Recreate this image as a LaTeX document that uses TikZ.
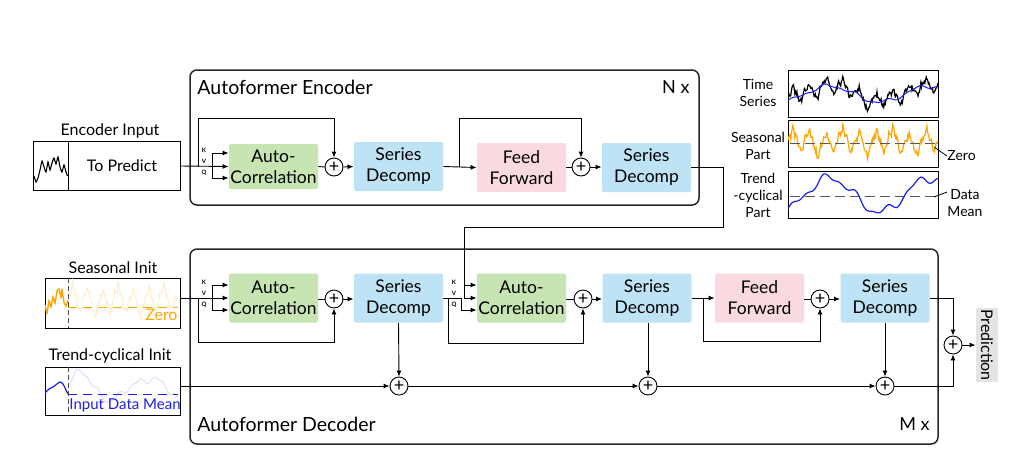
\documentclass[tikz,border=0pt]{standalone}
\usepackage{fontspec}
\setmainfont{Lato}
\usetikzlibrary{arrows.meta,calc}
\definecolor{acg}{RGB}{198,229,179}
\definecolor{sdb}{RGB}{190,227,245}
\definecolor{ffp}{RGB}{249,218,224}
\definecolor{predg}{RGB}{228,228,228}
\definecolor{sorange}{RGB}{255,165,0}
\definecolor{sorangel}{RGB}{255,236,205}
\definecolor{tblue}{RGB}{30,30,235}
\definecolor{tbluel}{RGB}{222,222,255}
\begin{document}
\begin{tikzpicture}[x=1pt,y=-1pt,line width=0.9pt,
  box/.style={rounded corners=2pt,minimum width=89pt,minimum height=49pt,align=center,inner sep=0pt,font=\fontsize{17.5}{21}\selectfont},
  acbox/.style={box,fill=acg},
  sdbox/.style={box,fill=sdb},
  ffbox/.style={box,fill=ffp},
  pl/.style={circle,draw,fill=white,minimum size=18pt,inner sep=0pt,font=\fontsize{18}{18}\selectfont},
  arr/.style={-{Latex[length=6pt,width=5pt]}},
  cont/.style={draw=black!85,line width=1.5pt,rounded corners=7pt,fill=white,inner sep=0pt},
  lab/.style={font=\fontsize{16}{16}\selectfont,inner sep=0pt},
  small/.style={font=\fontsize{14}{17}\selectfont,inner sep=0pt,align=center},
  kvq/.style={font=\fontsize{6}{6}\selectfont\bfseries,inner sep=0pt},
  thumb/.style={draw,inner sep=0pt,line width=1pt},
  declare function={gtr(\u)=sin(540*\u-60)+0.2*sin(1800*\u)+0.12*sin(3300*\u+30);
    sea(\u)=0.5*sin(3240*\u)+0.22*sin(6480*\u+70)+0.22*sin(1170*\u+20)+0.12*sin(14000*\u)+0.7*(max(0,sin(3240*\u-20)))^6;}
]
\pgfmathsetseed{11}
\useasboundingbox (0,0) rectangle (1027,459);

% ---------------- Encoder ----------------
\node[cont,minimum width=509pt,minimum height=135pt] (enc) at (444.5,137.5) {};
\node[anchor=west,font=\fontsize{19.5}{19.5}\selectfont,inner sep=0pt] (enct) at (197,87) {Autoformer Encoder};
\node[anchor=east,font=\fontsize{18}{18}\selectfont,inner sep=0pt] (encn) at (690,87) {N x};

\node[acbox,minimum height=45pt] (eac) at (273.5,166.5) {Auto-\\Correlation};
\node[pl] (ep1) at (334,167) {+};
\node[sdbox] (esd1) at (398.5,166.5) {Series\\Decomp};
\node[ffbox] (eff) at (521.5,167.5) {Feed\\Forward};
\node[pl] (ep2) at (581,167) {+};
\node[sdbox] (esd2) at (646.5,167.5) {Series\\Decomp};

% encoder input
\node[thumb,minimum width=147pt,minimum height=49pt] (ein) at (106.5,166) {};
\draw[line width=1pt] (68,141.5) -- (68,190.5);
\node[lab] (eint) at (110,131) {Encoder Input};
\node[lab] (einp) at (122,166) {To Predict};
\draw[line width=1.1pt] plot[smooth,tension=0.3] coordinates {(34,176) (36,182) (38,178) (40,170) (42,161) (44,167) (46,172) (48,162) (50,170) (52,163) (54,158) (56,164) (58,157) (60,167) (62,172) (64,165) (66,172) (67.5,176)};

% KVQ encoder
\coordinate (ek) at (212,153);
\coordinate (eq) at (212,178);
\coordinate (eres) at (198,167);
\draw[arr] (ein.east) -- (eac.west);
\draw (ek) -- (eq);
\draw[arr] (ek) -- (eac.west|-ek);
\draw[arr] (eq) -- (eac.west|-eq);
\node[kvq] (ekl) at (204,150) {K};
\node[kvq] (evl) at (204,161) {V};
\node[kvq] (eql) at (204,173) {Q};
\draw[arr] (eres) -- (198,118) -| (ep1.north);
\draw (eac.east) -- (ep1.west);
\draw[arr] (ep1.east) -- (esd1.west);
\coordinate (ebr) at (459,167);
\draw[arr] (esd1.east) -- (eff.west);
\draw[arr] (ebr) -- (459,118) -| (ep2.north);
\draw (eff.east|-ep2) -- (ep2.west);
\draw[arr] (ep2.east) -- (esd2.west|-ep2);

% ---------------- Decoder ----------------
\node[cont,minimum width=748pt,minimum height=195pt] (dec) at (564,346.5) {};
\node[anchor=west,font=\fontsize{19.5}{19.5}\selectfont,inner sep=0pt] (dect) at (197,424) {Autoformer Decoder};
\node[anchor=east,font=\fontsize{18}{18}\selectfont,inner sep=0pt] (decn) at (930,424) {M x};

\node[acbox] (dac1) at (273.5,298) {Auto-\\Correlation};
\node[pl] (dp1) at (334,299) {+};
\node[sdbox] (dsd1) at (398.5,298) {Series\\Decomp};
\node[acbox] (dac2) at (521.5,298) {Auto-\\Correlation};
\node[pl] (dp2) at (583,299) {+};
\node[sdbox] (dsd2) at (647,298) {Series\\Decomp};
\node[ffbox] (dff) at (759.5,298) {Feed\\Forward};
\node[pl] (dp3) at (820,299) {+};
\node[sdbox] (dsd3) at (885,298) {Series\\Decomp};
\node[pl] (db1) at (399,386) {+};
\node[pl] (db2) at (648,386) {+};
\node[pl] (db3) at (885,386) {+};
\node[pl] (dp4) at (953,345) {+};
\node[fill=predg,minimum width=22pt,minimum height=74pt,inner sep=0pt] (pred) at (987,345) {};
\node[rotate=-90,font=\fontsize{16}{16}\selectfont,inner sep=0pt] (predt) at (987,345) {Prediction};

% seasonal init
\node[thumb,minimum width=135pt,minimum height=50pt] (sin) at (112.5,303) {};
\node[lab] (sint) at (113,268) {Seasonal Init};
\begin{scope}
\clip (45,278) rectangle (180,328);
\draw[sorangel,line width=1pt] plot[domain=0:1,samples=140,variable=\u] ({68+110*\u},{302-16*sea(0.8*\u)-2*rand});
\draw[sorange,line width=1.4pt] plot[smooth,tension=0.3] coordinates {(45,305) (47,313) (49,301) (51,307) (53,297) (55,303) (57,291) (59,289) (61,297) (62,290) (64,302) (66,306) (68,300)};
\draw[sorange,line width=1pt,dash pattern=on 9pt off 6pt] (68,307) -- (178,307);
\end{scope}
\draw[black!70,line width=1pt,dash pattern=on 5pt off 3pt] (68,278) -- (68,328);
\node[lab,text=sorange,anchor=east] (zt) at (178,315) {Zero};

% trend init
\node[thumb,minimum width=135pt,minimum height=48pt] (tin) at (112.5,391) {};
\node[lab] (tint) at (110,356) {Trend-cyclical Init};
\begin{scope}
\clip (45,367) rectangle (180,415);
\draw[tbluel,line width=1pt] plot[smooth,domain=0:1,samples=60,variable=\u] ({68+110*\u},{388-12*gtr(\u*1.1+0.15)-4*sin(900*\u)});
\draw[tblue,line width=1.2pt] plot[smooth,tension=0.5] coordinates {(45,393) (49,389) (53,387) (57,384) (60,382) (63,384) (66,390) (68,394)};
\draw[tblue,line width=1pt,dash pattern=on 9pt off 6pt] (68,394) -- (178,394);
\end{scope}
\draw[black!70,line width=1pt,dash pattern=on 5pt off 3pt] (68,367) -- (68,415);
\node[font=\fontsize{15}{15}\selectfont,inner sep=0pt,text=tblue,anchor=west] (idm) at (69,405) {Input Data Mean};

% decoder KVQ 1
\coordinate (dk1) at (212,285);
\coordinate (dq1) at (212,310);
\coordinate (dres1) at (198,299);
\draw[arr] (sin.east|-dac1) -- (dac1.west);
\draw (dk1) -- (dq1);
\draw[arr] (dk1) -- (dac1.west|-dk1);
\draw[arr] (dq1) -- (dac1.west|-dq1);
\node[kvq] (dkl1) at (204,282) {K};
\node[kvq] (dvl1) at (204,293) {V};
\node[kvq] (dql1) at (204,305) {Q};
\draw[arr] (dres1) -- (198,342) -| (dp1.south);
\draw (dac1.east|-dp1) -- (dp1.west);
\draw[arr] (dp1.east) -- (dsd1.west|-dp1);
\draw[arr] (dsd1.south) -- (db1.north);
\draw[arr] (tin.east|-db1) -- (db1.west);

% encoder output to decoder 2
\coordinate (ek2) at (464,285);
\draw (esd2.east|-ep2) -- (723,167) -- (723,227) -- (464,227) -- (464,298);
\draw[arr] (ek2) -- (dac2.west|-ek2);
\draw[arr] (464,298) -- (dac2.west);
\coordinate (dq2) at (461,310);
\draw[arr] (dsd1.east) -- (461,298) -- (dq2) -- (dac2.west|-dq2);
\coordinate (dres2) at (448,298);
\draw[arr] (dres2) -- (448,343) -| (dp2.south);
\node[kvq] (dkl2) at (454,282) {K};
\node[kvq] (dvl2) at (454,293) {V};
\node[kvq] (dql2) at (454,305) {Q};
\draw (dac2.east|-dp2) -- (dp2.west);
\draw[arr] (dp2.east) -- (dsd2.west|-dp2);
\draw[arr] (dsd2.south-|db2) -- (db2.north);
\coordinate (dbr3) at (703,298);
\draw[arr] (dsd2.east) -- (dff.west);
\draw[arr] (dbr3) -- (703,341) -| (dp3.south);
\draw (dff.east|-dp3) -- (dp3.west);
\draw[arr] (dp3.east) -- (dsd3.west|-dp3);
\draw[arr] (dsd3.south) -- (db3.north);
\draw[arr] (db1.east) -- (db2.west);
\draw[arr] (db2.east) -- (db3.west);
\draw[arr] (db3.east) -| (dp4.south);
\draw[arr] (dsd3.east) -| (dp4.north);
\draw[arr] (dp4.east) -- (pred.west|-dp4);

% ---------------- right panel ----------------
\node[thumb,minimum width=150pt,minimum height=47pt] (tsb) at (863,93.5) {};
\node[thumb,minimum width=150pt,minimum height=47pt] (spb) at (863,143.5) {};
\node[thumb,minimum width=150pt,minimum height=47pt] (tpb) at (863,194.5) {};
\begin{scope}
\clip (788,70) rectangle (938,117);
\draw[black,line width=1.2pt] plot[domain=0:1,samples=220,variable=\u] ({788+150*\u},{94-8*gtr(\u)-9*sea(\u)-2.5*rand});
\draw[tblue,line width=1pt] plot[smooth,domain=0:1,samples=60,variable=\u] ({788+150*\u},{94-8*gtr(\u)});
\end{scope}
\begin{scope}
\clip (788,120) rectangle (938,167);
\draw[sorange,line width=1.2pt] plot[domain=0:1,samples=220,variable=\u] ({788+150*\u},{143-14*sea(\u)-3*rand});
\draw[black!65,line width=1pt,dash pattern=on 10pt off 5pt] (790,143) -- (935,143);
\end{scope}
\begin{scope}
\clip (788,171) rectangle (938,218);
\draw[black!65,line width=1pt,dash pattern=on 10pt off 5pt] (790,196) -- (935,196);
\draw[tblue,line width=1.2pt] plot[smooth,domain=0:1,samples=80,variable=\u] ({788+150*\u},{195-17*gtr(\u)});
\end{scope}
\node[small] (tsl) at (758,93) {Time\\Series};
\node[small] (spl) at (758,146) {Seasonal\\Part};
\node[small] (tpl) at (758,195) {Trend\\-cyclical\\Part};
\node[small,anchor=west] (zl) at (947,156) {Zero};
\node[small,anchor=west] (dml) at (947,203) {Data\\Mean};
\draw[line width=0.8pt] (zl.west) -- (934,147);
\draw[line width=0.8pt] (dml.north west) ++(0,3) -- (934,197);
\end{tikzpicture}
\end{document}
